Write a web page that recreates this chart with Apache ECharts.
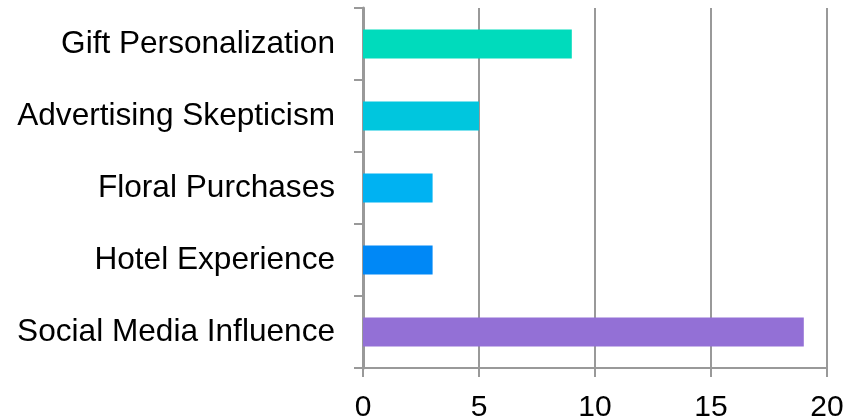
<!DOCTYPE html>
<html>
<head>
<meta charset="utf-8">
<script src="https://cdn.jsdelivr.net/npm/echarts@6/dist/echarts.min.js"></script>
<style>
  html, body { margin: 0; padding: 0; background: #fff; }
  #main { width: 849px; height: 420px; }
</style>
</head>
<body>
<div id="main"></div>
<script>
  // categories listed top to bottom
  const categories = ['Gift Personalization', 'Advertising Skepticism', 'Floral Purchases', 'Hotel Experience', 'Social Media Influence'];
  const values = [9, 5, 3, 3, 19];
  const barColors = ['#00DBBC', '#00C6DE', '#00B2F2', '#0088F6', '#9370D6'];
  const xTicks = [0, 5, 10, 15, 20];

  const chart = echarts.init(document.getElementById('main'));
  const font = 'Liberation Sans, Arial, sans-serif';
  const axisGray = '#999999';

  chart.setOption({
    animation: false,
    grid: { left: 363, right: 22, top: 8, bottom: 52, containLabel: false, outerBoundsMode: 'none' },
    xAxis: {
      type: 'value',
      min: xTicks[0],
      max: xTicks[xTicks.length - 1],
      interval: 5,
      axisLine: { show: true, lineStyle: { color: axisGray, width: 2 } },
      axisTick: { show: true, length: 9, lineStyle: { color: axisGray, width: 2 } },
      splitLine: { show: true, lineStyle: { color: axisGray, width: 2 } },
      axisLabel: { color: '#000', fontSize: 30, fontFamily: font, margin: 25 }
    },
    yAxis: {
      type: 'category',
      inverse: true,
      data: categories,
      axisLine: { show: true, lineStyle: { color: axisGray, width: 3 } },
      axisTick: { show: true, length: 9, lineStyle: { color: axisGray, width: 2 } },
      axisLabel: { color: '#000', fontSize: 31.6, fontFamily: font, margin: 28 }
    },
    series: [{
      type: 'bar',
      data: values.map((v, i) => ({ value: v, itemStyle: { color: barColors[i] } })),
      barWidth: 29
    }]
  });
</script>
</body>
</html>
